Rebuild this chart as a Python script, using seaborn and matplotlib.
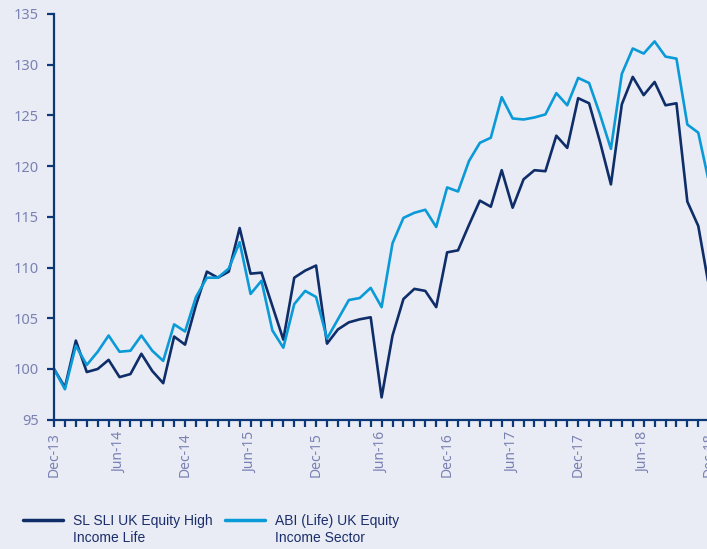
import matplotlib
matplotlib.use("Agg")
import matplotlib.pyplot as plt
import seaborn as sns
import pandas as pd
from matplotlib.lines import Line2D
from matplotlib.legend_handler import HandlerLine2D

# monthly index values, Dec-13 .. Dec-18
fund = [100.0, 98.2, 102.8, 99.7, 100.0, 100.9, 99.2, 99.5, 101.5, 99.8, 98.6, 103.2,
        102.4, 106.3, 109.6, 109.0, 109.6, 113.9, 109.4, 109.5, 106.2, 102.9, 109.0, 109.7,
        110.2, 102.5, 103.9, 104.6, 104.9, 105.1, 97.2, 103.3, 106.9, 107.9, 107.7, 106.1,
        111.5, 111.7, 114.2, 116.6, 116.0, 119.6, 115.9, 118.7, 119.6, 119.5, 123.0, 121.8,
        126.7, 126.2, 122.4, 118.2, 126.1, 128.8, 127.0, 128.3, 126.0, 126.2, 116.5, 114.1, 108.0]
sector = [100.0, 98.0, 102.3, 100.4, 101.7, 103.3, 101.7, 101.8, 103.3, 101.8, 100.8, 104.4,
          103.7, 107.1, 109.0, 109.0, 109.9, 112.5, 107.4, 108.7, 103.8, 102.1, 106.4, 107.7,
          107.1, 103.0, 104.9, 106.8, 107.0, 108.0, 106.1, 112.4, 114.9, 115.4, 115.7, 114.0,
          117.9, 117.5, 120.5, 122.3, 122.8, 126.8, 124.7, 124.6, 124.8, 125.1, 127.2, 126.0,
          128.7, 128.2, 125.1, 121.7, 129.1, 131.6, 131.1, 132.3, 130.8, 130.6, 124.1, 123.3, 118.3]
dates = pd.date_range("2013-12-01", periods=61, freq="MS")
series_names = ["SL SLI UK Equity High\nIncome Life", "ABI (Life) UK Equity\nIncome Sector"]
colors = ["#0e2d69", "#0a9ad8"]

bg = "#e9ecf4"
navy = "#0c3778"
tick_col = "#7a81b3"

sns.set_theme(style="white")
plt.rcParams["font.family"] = ["Noto Sans", "DejaVu Sans"]

df = pd.DataFrame({
    "month": list(range(61)) * 2,
    "value": fund + sector,
    "series": [series_names[0]] * 61 + [series_names[1]] * 61,
})

fig = plt.figure(figsize=(7.07, 5.49), dpi=100, facecolor=bg)
ax = fig.add_axes([0.0764, 0.2355, 0.9267, 0.739])
ax.set_facecolor(bg)

sns.lineplot(data=df, x="month", y="value", hue="series", palette=colors,
             linewidth=1.9, ax=ax, legend=False)

ax.set_xlim(0, 60)
ax.set_ylim(95, 135)
ax.set_yticks(range(95, 136, 5))
ax.set_xticks(range(61))
ax.set_xticklabels([d.strftime("%b-%y") if i % 6 == 0 else "" for i, d in enumerate(dates)],
                   rotation=90)
ax.set_xlabel("")
ax.set_ylabel("")

for side in ["top", "right"]:
    ax.spines[side].set_visible(False)
for side in ["left", "bottom"]:
    ax.spines[side].set_color(navy)
    ax.spines[side].set_linewidth(1.6)
ax.tick_params(axis="both", bottom=True, left=True, colors=navy, labelcolor=tick_col,
               width=1.6, length=5, direction="out", labelsize=10)
ax.tick_params(axis="y", pad=6, labelsize=10.5)
ax.tick_params(axis="x", pad=4)


# legend line sits level with the first text line
class TopLineHandler(HandlerLine2D):
    def create_artists(self, *args, **kwargs):
        arts = super().create_artists(*args, **kwargs)
        for a in arts:
            a.set_ydata([y + 7 for y in a.get_ydata()])
        return arts


leg_font = {"family": ["Liberation Sans", "DejaVu Sans"], "size": 10}
for name, c, x0 in zip(series_names, colors, [0.032, 0.318]):
    h = Line2D([], [], color=c, linewidth=2.5)
    leg = fig.legend([h], [name], loc="upper left", handler_map={h: TopLineHandler()},
                     bbox_to_anchor=(x0, 0.064), frameon=False, handlelength=2.9,
                     handletextpad=0.7, borderaxespad=0, borderpad=0, prop=leg_font)
    for t in leg.get_texts():
        t.set_color("#1b2e6b")
        t.set_linespacing(1.3)

fig.savefig("out.png", dpi=100, facecolor=bg)
